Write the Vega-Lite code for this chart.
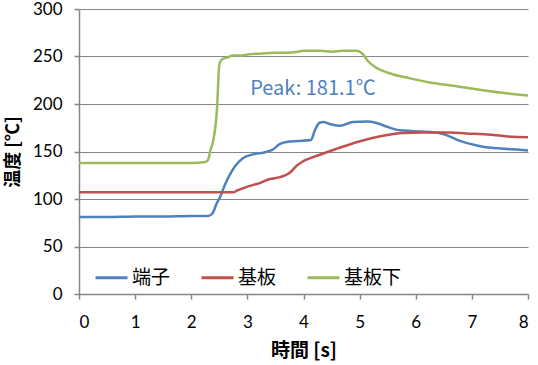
{
  "$schema": "https://vega.github.io/schema/vega-lite/v6.json",
  "width": 449,
  "height": 285,
  "autosize": "none",
  "padding": {"left": 79, "top": 9, "right": 10, "bottom": 71},
  "background": "white",
  "config": {
    "view": {"stroke": null},
    "font": "Noto Sans CJK JP"
  },
  "datasets": {
    "series": [
      {"t": 0, "temp": 81, "s": "端子"}, {"t": 0.5, "temp": 81, "s": "端子"}, {"t": 1, "temp": 81.5, "s": "端子"}, {"t": 1.5, "temp": 81.5, "s": "端子"}, {"t": 2, "temp": 82, "s": "端子"}, {"t": 2.3, "temp": 82, "s": "端子"}, {"t": 2.38, "temp": 85, "s": "端子"}, {"t": 2.45, "temp": 95, "s": "端子"}, {"t": 2.52, "temp": 103, "s": "端子"}, {"t": 2.6, "temp": 115, "s": "端子"}, {"t": 2.7, "temp": 127, "s": "端子"}, {"t": 2.8, "temp": 136, "s": "端子"}, {"t": 2.92, "temp": 143, "s": "端子"}, {"t": 3.1, "temp": 147, "s": "端子"}, {"t": 3.3, "temp": 149, "s": "端子"}, {"t": 3.45, "temp": 152, "s": "端子"}, {"t": 3.58, "temp": 158, "s": "端子"}, {"t": 3.7, "temp": 160, "s": "端子"}, {"t": 3.9, "temp": 161, "s": "端子"}, {"t": 4.13, "temp": 162, "s": "端子"}, {"t": 4.2, "temp": 172, "s": "端子"}, {"t": 4.28, "temp": 180, "s": "端子"}, {"t": 4.35, "temp": 181, "s": "端子"}, {"t": 4.47, "temp": 179, "s": "端子"}, {"t": 4.65, "temp": 177, "s": "端子"}, {"t": 4.88, "temp": 181, "s": "端子"}, {"t": 5.13, "temp": 181.5, "s": "端子"}, {"t": 5.3, "temp": 180, "s": "端子"}, {"t": 5.49, "temp": 176, "s": "端子"}, {"t": 5.65, "temp": 173, "s": "端子"}, {"t": 5.8, "temp": 172, "s": "端子"}, {"t": 6.1, "temp": 171, "s": "端子"}, {"t": 6.45, "temp": 169, "s": "端子"}, {"t": 6.6, "temp": 166, "s": "端子"}, {"t": 6.75, "temp": 162, "s": "端子"}, {"t": 6.97, "temp": 158, "s": "端子"}, {"t": 7.2, "temp": 155, "s": "端子"}, {"t": 7.56, "temp": 153, "s": "端子"}, {"t": 7.8, "temp": 152, "s": "端子"}, {"t": 8, "temp": 151, "s": "端子"},
      {"t": 0, "temp": 107, "s": "基板"}, {"t": 1, "temp": 107, "s": "基板"}, {"t": 2, "temp": 107, "s": "基板"}, {"t": 2.75, "temp": 107, "s": "基板"}, {"t": 2.82, "temp": 109, "s": "基板"}, {"t": 3.0, "temp": 113, "s": "基板"}, {"t": 3.23, "temp": 117, "s": "基板"}, {"t": 3.4, "temp": 121, "s": "基板"}, {"t": 3.58, "temp": 123, "s": "基板"}, {"t": 3.74, "temp": 127, "s": "基板"}, {"t": 3.8, "temp": 130, "s": "基板"}, {"t": 3.86, "temp": 134, "s": "基板"}, {"t": 3.97, "temp": 139, "s": "基板"}, {"t": 4.17, "temp": 144, "s": "基板"}, {"t": 4.4, "temp": 149, "s": "基板"}, {"t": 4.6, "temp": 153, "s": "基板"}, {"t": 4.96, "temp": 160, "s": "基板"}, {"t": 5.37, "temp": 166, "s": "基板"}, {"t": 5.78, "temp": 169.5, "s": "基板"}, {"t": 6.1, "temp": 170, "s": "基板"}, {"t": 6.61, "temp": 170, "s": "基板"}, {"t": 6.9, "temp": 169, "s": "基板"}, {"t": 7.27, "temp": 168, "s": "基板"}, {"t": 7.6, "temp": 166, "s": "基板"}, {"t": 8, "temp": 165, "s": "基板"},
      {"t": 0, "temp": 138, "s": "基板下"}, {"t": 1, "temp": 138, "s": "基板下"}, {"t": 2, "temp": 138, "s": "基板下"}, {"t": 2.25, "temp": 139, "s": "基板下"}, {"t": 2.3, "temp": 141, "s": "基板下"}, {"t": 2.34, "temp": 151, "s": "基板下"}, {"t": 2.39, "temp": 161, "s": "基板下"}, {"t": 2.46, "temp": 196, "s": "基板下"}, {"t": 2.5, "temp": 242, "s": "基板下"}, {"t": 2.55, "temp": 247, "s": "基板下"}, {"t": 2.64, "temp": 249, "s": "基板下"}, {"t": 2.75, "temp": 251, "s": "基板下"}, {"t": 2.9, "temp": 251, "s": "基板下"}, {"t": 3.0, "temp": 252, "s": "基板下"}, {"t": 3.2, "temp": 253, "s": "基板下"}, {"t": 3.5, "temp": 254, "s": "基板下"}, {"t": 3.7, "temp": 254, "s": "基板下"}, {"t": 3.9, "temp": 255, "s": "基板下"}, {"t": 4.0, "temp": 256, "s": "基板下"}, {"t": 4.3, "temp": 256, "s": "基板下"}, {"t": 4.5, "temp": 255, "s": "基板下"}, {"t": 4.7, "temp": 256, "s": "基板下"}, {"t": 4.95, "temp": 256, "s": "基板下"}, {"t": 5.05, "temp": 253, "s": "基板下"}, {"t": 5.15, "temp": 245, "s": "基板下"}, {"t": 5.3, "temp": 238, "s": "基板下"}, {"t": 5.45, "temp": 234, "s": "基板下"}, {"t": 5.6, "temp": 231, "s": "基板下"}, {"t": 5.9, "temp": 227, "s": "基板下"}, {"t": 6.31, "temp": 222, "s": "基板下"}, {"t": 6.7, "temp": 219, "s": "基板下"}, {"t": 7.02, "temp": 216, "s": "基板下"}, {"t": 7.5, "temp": 212, "s": "基板下"}, {"t": 8, "temp": 209, "s": "基板下"}
    ],
    "note": [
      {"t": 3.05, "temp": 216, "label": "Peak: 181.1℃"}
    ]
  },
  "layer": [
    {
      "data": {"name": "series"},
      "mark": {"type": "line", "strokeWidth": 2.5, "interpolate": "monotone"},
      "encoding": {
        "x": {
          "field": "t", "type": "quantitative",
          "scale": {"domain": [0, 8], "nice": false},
          "axis": {
            "values": [0, 1, 2, 3, 4, 5, 6, 7, 8],
            "format": "d",
            "title": "時間 [s]",
            "titleFont": "Noto Sans CJK JP",
            "titleFontSize": 19,
            "titleFontWeight": "bold",
            "titleColor": "#000000",
            "titlePadding": 11,
            "labelFont": "Lato",
            "labelFontSize": 17,
            "labelColor": "#000000",
            "labelPadding": 15,
            "grid": false,
            "domainColor": "#868686",
            "domainWidth": 1.5,
            "tickColor": "#868686",
            "tickSize": 5,
            "tickWidth": 1.5
          }
        },
        "y": {
          "field": "temp", "type": "quantitative",
          "scale": {"domain": [0, 300], "nice": false},
          "axis": {
            "values": [0, 50, 100, 150, 200, 250, 300],
            "format": "d",
            "title": "温度 [℃]",
            "titleFont": "Noto Sans CJK JP",
            "titleFontSize": 18,
            "titleFontWeight": "bold",
            "titleColor": "#000000",
            "titlePadding": 10,
            "labelFont": "Lato",
            "labelFontSize": 17,
            "labelColor": "#000000",
            "labelPadding": 12,
            "labelBound": false,
            "grid": true,
            "gridColor": "#868686",
            "gridWidth": 1.2,
            "domainColor": "#868686",
            "domainWidth": 1.5,
            "tickColor": "#868686",
            "tickSize": 5,
            "tickWidth": 1.5
          }
        },
        "color": {
          "field": "s", "type": "nominal",
          "scale": {"domain": ["端子", "基板", "基板下"], "range": ["#4F81BD", "#C0504D", "#9BBB59"]},
          "legend": {
            "title": null,
            "orient": "none",
            "legendX": 15,
            "legendY": 251,
            "direction": "horizontal",
            "symbolType": "stroke",
            "symbolSize": 1024,
            "symbolStrokeWidth": 3,
            "labelFont": "Noto Sans CJK JP",
            "labelFontSize": 19,
            "labelColor": "#000000",
            "labelOffset": 3,
            "columnPadding": 24
          }
        }
      }
    },
    {
      "data": {"name": "note"},
      "mark": {"type": "text", "align": "left", "baseline": "middle", "font": "Noto Sans CJK JP", "fontSize": 20, "letterSpacing": 1, "color": "#4F81BD"},
      "encoding": {
        "x": {"field": "t", "type": "quantitative"},
        "y": {"field": "temp", "type": "quantitative"},
        "text": {"field": "label"}
      }
    }
  ]
}
